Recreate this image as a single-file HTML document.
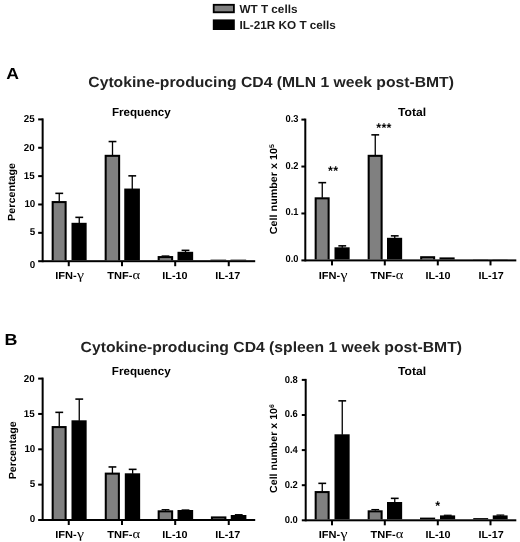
<!DOCTYPE html>
<html><head><meta charset="utf-8"><title>Figure</title>
<style>
html,body{margin:0;padding:0;background:#fff;}
body{width:520px;height:542px;overflow:hidden;font-family:"Liberation Sans",sans-serif;}
svg{display:block}
svg text{font-family:"Liberation Sans",sans-serif;font-weight:bold;text-rendering:geometricPrecision;}
</style></head><body>
<svg width="520" height="542" viewBox="0 0 520 542">
<defs><filter id="soft" x="0" y="0" width="520" height="542" filterUnits="userSpaceOnUse" color-interpolation-filters="sRGB"><feGaussianBlur stdDeviation="0.5"/></filter></defs>
<rect x="0" y="0" width="520" height="542" fill="#fff"/>
<g filter="url(#soft)">
<rect x="0" y="0" width="520" height="542" fill="#fff"/>
<rect x="212.8" y="3.9" width="22.0" height="9.3" fill="#000"/>
<rect x="214.6" y="5.7" width="18.4" height="5.6" fill="#808080"/>
<rect x="212.8" y="19.4" width="22.0" height="10.6" fill="#000"/>
<text transform="translate(239.4,12.5) scale(1.012,1)" font-size="11.6" text-anchor="start" fill="#1a1a1a" >WT T cells</text>
<text transform="translate(239.4,29.1) scale(1.012,1)" font-size="11.6" text-anchor="start" fill="#1a1a1a" >IL-21R KO T cells</text>
<text transform="translate(6.2,79.2) scale(1.1,1)" font-size="16" text-anchor="start" fill="#000" >A</text>
<text transform="translate(4.4,344.8) scale(1.12,1)" font-size="16" text-anchor="start" fill="#000" >B</text>
<text transform="translate(88.3,86.9) scale(1.0694,1)" font-size="14.7" text-anchor="start" fill="#222" >Cytokine-producing CD4 (MLN 1 week post-BMT)</text>
<text transform="translate(80.6,351.9) scale(1.0694,1)" font-size="14.7" text-anchor="start" fill="#222" >Cytokine-producing CD4 (spleen 1 week post-BMT)</text>
<text transform="translate(111.9,115.9) scale(1.003,1)" font-size="11.6" text-anchor="start" fill="#000" >Frequency</text>
<text transform="translate(398.0,115.6) scale(1.045,1)" font-size="11.6" text-anchor="start" fill="#000" >Total</text>
<text transform="translate(111.8,374.8) scale(1.003,1)" font-size="11.6" text-anchor="start" fill="#000" >Frequency</text>
<text transform="translate(398.0,374.8) scale(1.045,1)" font-size="11.6" text-anchor="start" fill="#000" >Total</text>
<rect x="41.65" y="118.4" width="2.0" height="143.8" fill="#000"/>
<rect x="38.15" y="260.2" width="217.05" height="2.0" fill="#000"/>
<rect x="38.15" y="118.4" width="4.5" height="2.0" fill="#000"/>
<rect x="38.15" y="146.76" width="4.5" height="2.0" fill="#000"/>
<rect x="38.15" y="175.12" width="4.5" height="2.0" fill="#000"/>
<rect x="38.15" y="203.48" width="4.5" height="2.0" fill="#000"/>
<rect x="38.15" y="231.84" width="4.5" height="2.0" fill="#000"/>
<rect x="67.75" y="261.2" width="2.0" height="5.0" fill="#000"/>
<rect x="121" y="261.2" width="2" height="5.0" fill="#000"/>
<rect x="174.2" y="261.2" width="2.0" height="5.0" fill="#000"/>
<rect x="227.75" y="261.2" width="2.0" height="5.0" fill="#000"/>
<text transform="translate(34.6,122.3) scale(0.98,1)" font-size="10" text-anchor="end" fill="#000" >25</text>
<text transform="translate(34.6,150.53) scale(0.98,1)" font-size="10" text-anchor="end" fill="#000" >20</text>
<text transform="translate(34.6,178.75) scale(0.98,1)" font-size="10" text-anchor="end" fill="#000" >15</text>
<text transform="translate(35.3,206.97) scale(0.98,1)" font-size="10" text-anchor="end" fill="#000" >10</text>
<text transform="translate(35.3,235.2) scale(0.98,1)" font-size="10" text-anchor="end" fill="#000" >5</text>
<text transform="translate(35.3,267.8) scale(0.98,1)" font-size="10" text-anchor="end" fill="#000" >0</text>
<rect x="304.3" y="118.6" width="2.0" height="142.8" fill="#000"/>
<rect x="301.4" y="259.4" width="214.9" height="2.0" fill="#000"/>
<rect x="301.4" y="118.6" width="3.9" height="2.0" fill="#000"/>
<rect x="301.4" y="165.53" width="3.9" height="2.0" fill="#000"/>
<rect x="301.4" y="212.47" width="3.9" height="2.0" fill="#000"/>
<rect x="331" y="260.4" width="2" height="5.0" fill="#000"/>
<rect x="383.8" y="260.4" width="2.0" height="5.0" fill="#000"/>
<rect x="436.8" y="260.4" width="2.0" height="5.0" fill="#000"/>
<rect x="489.5" y="260.4" width="2.0" height="5.0" fill="#000"/>
<text transform="translate(298.5,121.9) scale(0.93,1)" font-size="10" text-anchor="end" fill="#000" >0.3</text>
<text transform="translate(298.5,168.57) scale(0.93,1)" font-size="10" text-anchor="end" fill="#000" >0.2</text>
<text transform="translate(298.5,215.23) scale(0.93,1)" font-size="10" text-anchor="end" fill="#000" >0.1</text>
<text transform="translate(298.5,261.9) scale(0.93,1)" font-size="10" text-anchor="end" fill="#000" >0.0</text>
<rect x="41.65" y="377.6" width="2.0" height="143.4" fill="#000"/>
<rect x="38.15" y="519" width="217.05" height="2" fill="#000"/>
<rect x="38.15" y="377.6" width="4.5" height="2.0" fill="#000"/>
<rect x="38.15" y="412.95" width="4.5" height="2.0" fill="#000"/>
<rect x="38.15" y="448.3" width="4.5" height="2.0" fill="#000"/>
<rect x="38.15" y="483.65" width="4.5" height="2.0" fill="#000"/>
<rect x="67.75" y="520" width="2.0" height="5" fill="#000"/>
<rect x="121" y="520" width="2" height="5" fill="#000"/>
<rect x="174.2" y="520" width="2.0" height="5" fill="#000"/>
<rect x="227.75" y="520" width="2.0" height="5" fill="#000"/>
<text transform="translate(34.6,381.6) scale(0.98,1)" font-size="10" text-anchor="end" fill="#000" >20</text>
<text transform="translate(34.6,416.8) scale(0.98,1)" font-size="10" text-anchor="end" fill="#000" >15</text>
<text transform="translate(35.3,452.0) scale(0.98,1)" font-size="10" text-anchor="end" fill="#000" >10</text>
<text transform="translate(35.3,487.2) scale(0.98,1)" font-size="10" text-anchor="end" fill="#000" >5</text>
<text transform="translate(35.3,522.4) scale(0.98,1)" font-size="10" text-anchor="end" fill="#000" >0</text>
<rect x="304.7" y="378.9" width="2.0" height="142.4" fill="#000"/>
<rect x="301.8" y="519.3" width="214.5" height="2.0" fill="#000"/>
<rect x="301.8" y="378.9" width="3.9" height="2.0" fill="#000"/>
<rect x="301.8" y="414.0" width="3.9" height="2.0" fill="#000"/>
<rect x="301.8" y="449.1" width="3.9" height="2.0" fill="#000"/>
<rect x="301.8" y="484.2" width="3.9" height="2.0" fill="#000"/>
<rect x="331" y="520.3" width="2" height="5.0" fill="#000"/>
<rect x="383.8" y="520.3" width="2.0" height="5.0" fill="#000"/>
<rect x="436.8" y="520.3" width="2.0" height="5.0" fill="#000"/>
<rect x="489.5" y="520.3" width="2.0" height="5.0" fill="#000"/>
<text transform="translate(297.8,383.0) scale(0.94,1)" font-size="10" text-anchor="end" fill="#000" >0.8</text>
<text transform="translate(297.8,417.3) scale(0.94,1)" font-size="10" text-anchor="end" fill="#000" >0.6</text>
<text transform="translate(297.8,452.5) scale(0.94,1)" font-size="10" text-anchor="end" fill="#000" >0.4</text>
<text transform="translate(297.8,487.9) scale(0.94,1)" font-size="10" text-anchor="end" fill="#000" >0.2</text>
<text transform="translate(297.8,523.1) scale(0.94,1)" font-size="10" text-anchor="end" fill="#000" >0.0</text>
<rect x="58.6" y="193.35" width="1.3" height="8.2" fill="#000"/>
<rect x="55.35" y="192.57" width="7.8" height="1.56" fill="#000"/>
<rect x="51.65" y="201.05" width="15.0" height="59.15" fill="#000"/>
<rect x="53.7" y="203.1" width="10.9" height="57.1" fill="#808080"/>
<rect x="78.6" y="217.35" width="1.3" height="5.95" fill="#000"/>
<rect x="75.35" y="216.57" width="7.8" height="1.56" fill="#000"/>
<rect x="71.5" y="222.8" width="15.15" height="37.4" fill="#000"/>
<rect x="111.85" y="141.55" width="1.3" height="13.75" fill="#000"/>
<rect x="108.6" y="140.77" width="7.8" height="1.56" fill="#000"/>
<rect x="104.65" y="154.8" width="15.5" height="105.4" fill="#000"/>
<rect x="106.7" y="156.85" width="11.4" height="103.35" fill="#808080"/>
<rect x="131.6" y="175.85" width="1.3" height="13.2" fill="#000"/>
<rect x="128.35" y="175.07" width="7.8" height="1.56" fill="#000"/>
<rect x="124.25" y="188.55" width="15.65" height="71.65" fill="#000"/>
<rect x="165.0" y="255.95" width="1.0" height="0.6" fill="#000"/>
<rect x="161.6" y="255.35" width="7.8" height="1.2" fill="#000"/>
<rect x="157.65" y="256.05" width="15.5" height="4.15" fill="#000"/>
<rect x="159.7" y="258.1" width="11.4" height="2.1" fill="#808080"/>
<rect x="184.85" y="250.35" width="1.3" height="1.95" fill="#000"/>
<rect x="181.6" y="249.57" width="7.8" height="1.56" fill="#000"/>
<rect x="177.5" y="251.8" width="15.65" height="8.4" fill="#000"/>
<rect x="210.5" y="259.65" width="15.65" height="0.55" fill="#000"/>
<rect x="230.5" y="259.65" width="15.65" height="0.55" fill="#000"/>
<rect x="321.6" y="182.65" width="1.3" height="15.15" fill="#000"/>
<rect x="318.35" y="181.87" width="7.8" height="1.56" fill="#000"/>
<rect x="314.65" y="197.3" width="15.0" height="62.1" fill="#000"/>
<rect x="316.7" y="199.35" width="10.9" height="60.05" fill="#808080"/>
<rect x="341.6" y="245.85" width="1.3" height="1.95" fill="#000"/>
<rect x="338.35" y="245.07" width="7.8" height="1.56" fill="#000"/>
<rect x="334.5" y="247.3" width="15.15" height="12.1" fill="#000"/>
<rect x="374.6" y="134.85" width="1.3" height="20.45" fill="#000"/>
<rect x="371.35" y="134.07" width="7.8" height="1.56" fill="#000"/>
<rect x="367.65" y="154.8" width="15.0" height="104.6" fill="#000"/>
<rect x="369.7" y="156.85" width="10.9" height="102.55" fill="#808080"/>
<rect x="394.1" y="235.85" width="1.3" height="2.45" fill="#000"/>
<rect x="390.85" y="235.07" width="7.8" height="1.56" fill="#000"/>
<rect x="387.0" y="237.8" width="15.15" height="21.6" fill="#000"/>
<rect x="420.15" y="256.2" width="15.0" height="3.2" fill="#000"/>
<rect x="422.2" y="258.25" width="10.9" height="1.15" fill="#808080"/>
<rect x="439.5" y="257.4" width="15.15" height="2.0" fill="#000"/>
<rect x="473.0" y="259.2" width="15.15" height="0.2" fill="#000"/>
<rect x="492.5" y="259.2" width="15.15" height="0.2" fill="#000"/>
<rect x="58.6" y="412.35" width="1.3" height="14.2" fill="#000"/>
<rect x="55.35" y="411.57" width="7.8" height="1.56" fill="#000"/>
<rect x="51.65" y="426.05" width="15.0" height="92.95" fill="#000"/>
<rect x="53.7" y="428.1" width="10.9" height="90.9" fill="#808080"/>
<rect x="78.6" y="399.1" width="1.3" height="21.7" fill="#000"/>
<rect x="75.35" y="398.32" width="7.8" height="1.56" fill="#000"/>
<rect x="71.5" y="420.3" width="15.15" height="98.7" fill="#000"/>
<rect x="111.77" y="466.95" width="1.31" height="6.15" fill="#000"/>
<rect x="108.52" y="466.17" width="7.81" height="1.56" fill="#000"/>
<rect x="104.75" y="472.6" width="15.15" height="46.4" fill="#000"/>
<rect x="106.8" y="474.65" width="11.05" height="44.35" fill="#808080"/>
<rect x="132.0" y="469.35" width="1.3" height="4.45" fill="#000"/>
<rect x="128.75" y="468.57" width="7.8" height="1.56" fill="#000"/>
<rect x="124.8" y="473.3" width="15.35" height="45.7" fill="#000"/>
<rect x="165.0" y="509.65" width="1.0" height="1.15" fill="#000"/>
<rect x="161.6" y="509.05" width="7.8" height="1.2" fill="#000"/>
<rect x="157.65" y="510.3" width="15.5" height="8.7" fill="#000"/>
<rect x="159.7" y="512.35" width="11.4" height="6.65" fill="#808080"/>
<rect x="185.0" y="509.95" width="1.0" height="0.55" fill="#000"/>
<rect x="181.6" y="509.35" width="7.8" height="1.2" fill="#000"/>
<rect x="177.5" y="510.0" width="15.65" height="9.0" fill="#000"/>
<rect x="210.9" y="516.4" width="15.5" height="2.6" fill="#000"/>
<rect x="212.95" y="518.45" width="11.4" height="0.55" fill="#808080"/>
<rect x="238.25" y="514.65" width="1.0" height="0.85" fill="#000"/>
<rect x="234.85" y="514.05" width="7.8" height="1.2" fill="#000"/>
<rect x="230.75" y="515.0" width="15.65" height="4.0" fill="#000"/>
<rect x="321.6" y="483.35" width="1.3" height="8.2" fill="#000"/>
<rect x="318.35" y="482.57" width="7.8" height="1.56" fill="#000"/>
<rect x="314.65" y="491.05" width="15.0" height="28.25" fill="#000"/>
<rect x="316.7" y="493.1" width="10.9" height="26.2" fill="#808080"/>
<rect x="341.6" y="400.85" width="1.3" height="33.95" fill="#000"/>
<rect x="338.35" y="400.07" width="7.8" height="1.56" fill="#000"/>
<rect x="334.5" y="434.3" width="15.15" height="85.0" fill="#000"/>
<rect x="374.75" y="509.55" width="1.0" height="1.25" fill="#000"/>
<rect x="371.35" y="508.95" width="7.8" height="1.2" fill="#000"/>
<rect x="367.65" y="510.3" width="15.0" height="9.0" fill="#000"/>
<rect x="369.7" y="512.35" width="10.9" height="6.95" fill="#808080"/>
<rect x="394.1" y="498.35" width="1.3" height="4.15" fill="#000"/>
<rect x="390.85" y="497.57" width="7.8" height="1.56" fill="#000"/>
<rect x="387.0" y="502.0" width="15.15" height="17.3" fill="#000"/>
<rect x="420.0" y="517.6" width="15.15" height="1.7" fill="#000"/>
<rect x="447.25" y="515.25" width="1.0" height="0.65" fill="#000"/>
<rect x="443.85" y="514.65" width="7.8" height="1.2" fill="#000"/>
<rect x="440.0" y="515.4" width="15.15" height="3.9" fill="#000"/>
<rect x="473.25" y="518.1" width="14.9" height="1.2" fill="#000"/>
<rect x="499.88" y="515.05" width="1.0" height="0.85" fill="#000"/>
<rect x="496.48" y="514.45" width="7.79" height="1.2" fill="#000"/>
<rect x="492.75" y="515.4" width="14.9" height="3.9" fill="#000"/>
<text transform="translate(55.3,279.0) scale(1.09,1)" font-size="10.15" text-anchor="start" fill="#000" >IFN-</text>
<text transform="translate(77.1,279.0) scale(1.22,1)" font-size="13" fill="#000" style="font-family:'Liberation Serif',serif;font-weight:normal">γ</text>
<text transform="translate(107.2,279.0) scale(1.09,1)" font-size="10.15" text-anchor="start" fill="#000" >TNF-</text>
<text transform="translate(132.6,279.0) scale(1.12,1)" font-size="13" fill="#000" style="font-family:'Liberation Serif',serif;font-weight:normal">α</text>
<text transform="translate(162.3,279.0) scale(1.065,1)" font-size="10.15" text-anchor="start" fill="#000" >IL-10</text>
<text transform="translate(215.2,279.0) scale(1.065,1)" font-size="10.15" text-anchor="start" fill="#000" >IL-17</text>
<text transform="translate(318.8,279.0) scale(1.09,1)" font-size="10.15" text-anchor="start" fill="#000" >IFN-</text>
<text transform="translate(340.4,279.0) scale(1.22,1)" font-size="13" fill="#000" style="font-family:'Liberation Serif',serif;font-weight:normal">γ</text>
<text transform="translate(370.5,279.0) scale(1.09,1)" font-size="10.15" text-anchor="start" fill="#000" >TNF-</text>
<text transform="translate(395.8,279.0) scale(1.12,1)" font-size="13" fill="#000" style="font-family:'Liberation Serif',serif;font-weight:normal">α</text>
<text transform="translate(425.4,279.0) scale(1.065,1)" font-size="10.15" text-anchor="start" fill="#000" >IL-10</text>
<text transform="translate(478.5,279.0) scale(1.065,1)" font-size="10.15" text-anchor="start" fill="#000" >IL-17</text>
<text transform="translate(55.3,537.7) scale(1.09,1)" font-size="10.15" text-anchor="start" fill="#000" >IFN-</text>
<text transform="translate(77.1,537.7) scale(1.22,1)" font-size="13" fill="#000" style="font-family:'Liberation Serif',serif;font-weight:normal">γ</text>
<text transform="translate(107.2,537.7) scale(1.09,1)" font-size="10.15" text-anchor="start" fill="#000" >TNF-</text>
<text transform="translate(132.6,537.7) scale(1.12,1)" font-size="13" fill="#000" style="font-family:'Liberation Serif',serif;font-weight:normal">α</text>
<text transform="translate(162.3,537.7) scale(1.065,1)" font-size="10.15" text-anchor="start" fill="#000" >IL-10</text>
<text transform="translate(215.2,537.7) scale(1.065,1)" font-size="10.15" text-anchor="start" fill="#000" >IL-17</text>
<text transform="translate(318.8,537.7) scale(1.09,1)" font-size="10.15" text-anchor="start" fill="#000" >IFN-</text>
<text transform="translate(340.4,537.7) scale(1.22,1)" font-size="13" fill="#000" style="font-family:'Liberation Serif',serif;font-weight:normal">γ</text>
<text transform="translate(370.5,537.7) scale(1.09,1)" font-size="10.15" text-anchor="start" fill="#000" >TNF-</text>
<text transform="translate(395.8,537.7) scale(1.12,1)" font-size="13" fill="#000" style="font-family:'Liberation Serif',serif;font-weight:normal">α</text>
<text transform="translate(425.4,537.7) scale(1.065,1)" font-size="10.15" text-anchor="start" fill="#000" >IL-10</text>
<text transform="translate(478.5,537.7) scale(1.065,1)" font-size="10.15" text-anchor="start" fill="#000" >IL-17</text>
<text transform="translate(14.7,191.9) rotate(-90) scale(1.045,1)" font-size="10.3" text-anchor="middle" fill="#000">Percentage</text>
<text transform="translate(15.5,450.3) rotate(-90) scale(1.045,1)" font-size="10.3" text-anchor="middle" fill="#000">Percentage</text>
<text transform="translate(276.6,189.2) rotate(-90) scale(1.045,1)" font-size="10.3" text-anchor="middle" fill="#000">Cell number x 10<tspan font-size="6.6" dy="-3.0">5</tspan></text>
<text transform="translate(276.6,448.6) rotate(-90) scale(1.03,1)" font-size="10.3" text-anchor="middle" fill="#000">Cell number x 10<tspan font-size="6.6" dy="-3.0">6</tspan></text>
<text x="333.2" y="174.6" font-size="12.6" text-anchor="middle" fill="#000" letter-spacing="0.3">**</text>
<text x="384.0" y="132.0" font-size="12.6" text-anchor="middle" fill="#000" letter-spacing="0.3">***</text>
<text x="437.8" y="509.8" font-size="12.6" text-anchor="middle" fill="#000" letter-spacing="0.3">*</text>
</g>
</svg>
</body></html>
